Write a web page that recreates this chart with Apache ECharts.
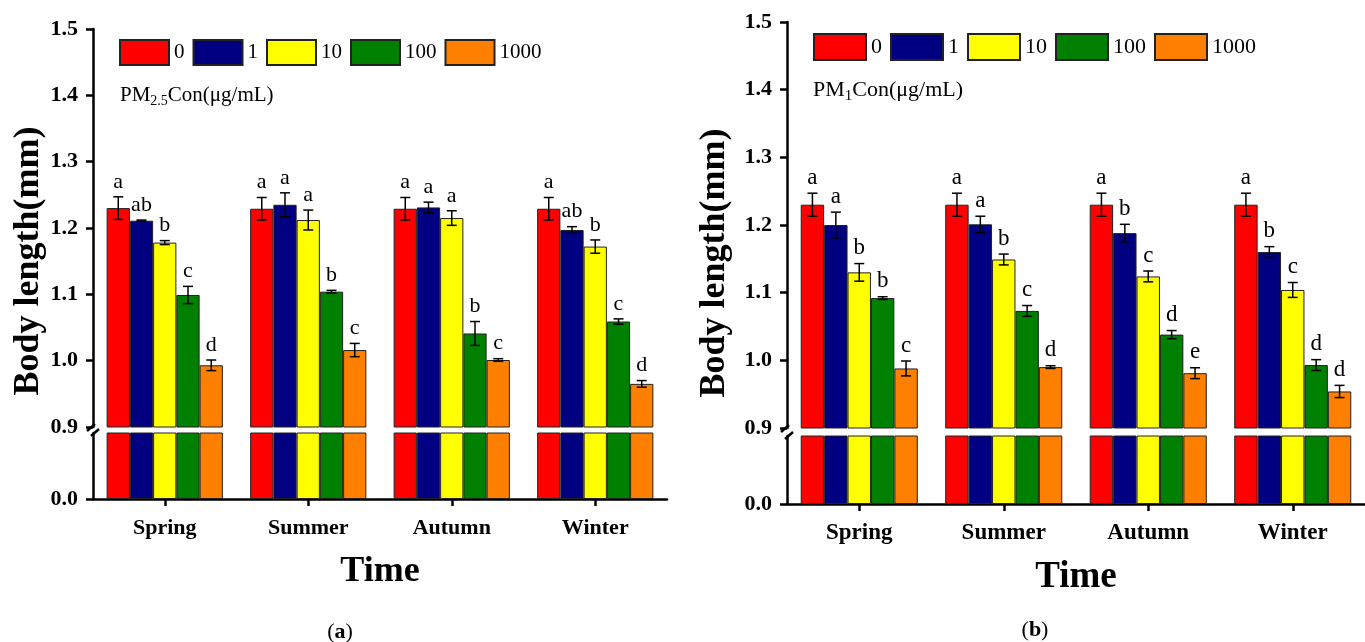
<!DOCTYPE html>
<html lang="en">
<head>
<meta charset="UTF-8">
<title>Body length</title>
<style type="text/css">
    html, body { margin: 0; padding: 0; background: #fff; }
    #chart { width: 1365px; height: 642px; }
</style>
</head>
<body>
<div id="chart"></div>
<script src="https://cdn.jsdelivr.net/npm/echarts@6/dist/echarts.min.js"></script>
<script type="text/javascript">
    var seasons = ['Spring', 'Summer', 'Autumn', 'Winter'];
    var doses = ['0', '1', '10', '100', '1000'];
    var colors = ['#ff0000', '#000080', '#ffff00', '#008000', '#ff8000'];
    var yTicks = [0.9, 1.0, 1.1, 1.2, 1.3, 1.4, 1.5];

    // panel (a) PM2.5 : one array per dose, values by season
    var a0 = [1.230, 1.229, 1.229, 1.229];
    var a1 = [1.211, 1.235, 1.231, 1.197];
    var a10 = [1.178, 1.212, 1.215, 1.172];
    var a100 = [1.099, 1.104, 1.041, 1.059];
    var a1000 = [0.993, 1.016, 1.001, 0.965];
    var aErr0 = [0.017, 0.017, 0.017, 0.017];
    var aErr1 = [0.001, 0.018, 0.008, 0.005];
    var aErr10 = [0.003, 0.015, 0.011, 0.010];
    var aErr100 = [0.013, 0.002, 0.018, 0.004];
    var aErr1000 = [0.008, 0.010, 0.002, 0.005];
    var aLet0 = ['a', 'a', 'a', 'a'];
    var aLet1 = ['ab', 'a', 'a', 'ab'];
    var aLet10 = ['b', 'a', 'a', 'b'];
    var aLet100 = ['c', 'b', 'b', 'c'];
    var aLet1000 = ['d', 'c', 'c', 'd'];

    // panel (b) PM1
    var b0 = [1.230, 1.230, 1.230, 1.230];
    var b1 = [1.200, 1.201, 1.188, 1.160];
    var b10 = [1.130, 1.149, 1.124, 1.104];
    var b100 = [1.092, 1.073, 1.038, 0.993];
    var b1000 = [0.988, 0.990, 0.981, 0.954];
    var bErr0 = [0.017, 0.017, 0.017, 0.017];
    var bErr1 = [0.019, 0.012, 0.013, 0.008];
    var bErr10 = [0.013, 0.008, 0.008, 0.011];
    var bErr100 = [0.002, 0.008, 0.006, 0.008];
    var bErr1000 = [0.011, 0.002, 0.008, 0.009];
    var bLet0 = ['a', 'a', 'a', 'a'];
    var bLet1 = ['a', 'a', 'b', 'b'];
    var bLet10 = ['b', 'b', 'c', 'c'];
    var bLet100 = ['b', 'c', 'd', 'd'];
    var bLet1000 = ['c', 'd', 'e', 'd'];

    var aVals = [a0, a1, a10, a100, a1000];
    var aErrs = [aErr0, aErr1, aErr10, aErr100, aErr1000];
    var aLets = [aLet0, aLet1, aLet10, aLet100, aLet1000];
    var bVals = [b0, b1, b10, b100, b1000];
    var bErrs = [bErr0, bErr1, bErr10, bErr100, bErr1000];
    var bLets = [bLet0, bLet1, bLet10, bLet100, bLet1000];

    var FONT = '"Liberation Serif", "Times New Roman", serif';
    var BAR_FRAC = 0.162;

    var chart = echarts.init(document.getElementById('chart'));

    function fmt(v) { return v.toFixed(1); }

    // upper grid (0.9-1.5) + lower grid (0-0.9) for each panel
    var grids = [
        { left: 93, top: 29, width: 574, height: 398 },
        { left: 93, top: 433, width: 574, height: 66 },
        { left: 787, top: 22, width: 586, height: 406 },
        { left: 787, top: 436, width: 586, height: 68 }
    ];

    function xAxisFor(gi, shown, fs, titleFs) {
        return {
            type: 'category', gridIndex: gi, data: seasons,
            show: shown,
            name: shown ? 'Time' : '',
            nameLocation: 'middle', nameGap: 55,
            nameTextStyle: { fontFamily: FONT, fontWeight: 'bold', fontSize: titleFs, color: '#000' },
            axisLine: { show: shown, lineStyle: { color: '#000', width: 2.5 } },
            axisTick: { show: shown, alignWithLabel: true, length: 7, lineStyle: { color: '#000', width: 2.5 } },
            axisLabel: { show: shown, margin: 18, fontFamily: FONT, fontWeight: 'bold', fontSize: fs, color: '#000' }
        };
    }

    function yUpper(gi, fs) {
        return {
            type: 'value', gridIndex: gi, min: yTicks[0], max: yTicks[yTicks.length - 1], interval: 0.1,
            splitLine: { show: false },
            axisLine: { show: true, lineStyle: { color: '#000', width: 2.5 } },
            axisTick: { show: true, length: 7, lineStyle: { color: '#000', width: 2.5 } },
            axisLabel: { formatter: fmt, margin: 15, fontFamily: FONT, fontWeight: 'bold', fontSize: fs, color: '#000' }
        };
    }

    function yLower(gi, fs) {
        return {
            type: 'value', gridIndex: gi, min: 0, max: 0.9, interval: 0.9,
            splitLine: { show: false },
            axisLine: { show: true, lineStyle: { color: '#000', width: 2.5 } },
            axisTick: { show: true, customValues: [0], length: 7, lineStyle: { color: '#000', width: 2.5 } },
            axisLabel: { customValues: [0], formatter: fmt, margin: 15, fontFamily: FONT, fontWeight: 'bold', fontSize: fs, color: '#000' }
        };
    }

    function barSeries(vals, axisIdx) {
        return vals.map(function (v, i) {
            return {
                name: doses[i], type: 'bar', xAxisIndex: axisIdx, yAxisIndex: axisIdx,
                data: v, barWidth: (BAR_FRAC * 100) + '%', barGap: '0%', clip: true,
                itemStyle: { color: colors[i], borderColor: '#222', borderWidth: 1 },
                silent: true
            };
        });
    }

    function errSeries(vals, errs, lets, axisIdx, fs) {
        return vals.map(function (v, s) {
            return {
                type: 'custom', xAxisIndex: axisIdx, yAxisIndex: axisIdx, silent: true, z: 5,
                data: v.map(function (d, c) { return [c, d, errs[s][c]]; }),
                renderItem: function (params, api) {
                    var c = api.value(0), m = api.value(1), e = api.value(2);
                    var band = api.size([1, 0])[0];
                    var x = api.coord([c, m])[0] + (s - 2) * band * BAR_FRAC;
                    var yt = api.coord([c, m + e])[1];
                    var yb = api.coord([c, m - e])[1];
                    var st = { stroke: '#000', lineWidth: 1.5 };
                    return {
                        type: 'group',
                        children: [
                            { type: 'line', shape: { x1: x, y1: yt, x2: x, y2: yb }, style: st },
                            { type: 'line', shape: { x1: x - 5, y1: yt, x2: x + 5, y2: yt }, style: st },
                            { type: 'line', shape: { x1: x - 5, y1: yb, x2: x + 5, y2: yb }, style: st },
                            { type: 'text', x: x, y: yt - 4, style: {
                                text: lets[s][params.dataIndex], fill: '#000',
                                font: fs + 'px ' + FONT, textAlign: 'center', textVerticalAlign: 'bottom' } }
                        ]
                    };
                }
            };
        });
    }

    function legendFor(left, top, w, h, fs) {
        return {
            left: left, top: top, padding: 0, itemWidth: w, itemHeight: h, itemGap: 8, icon: 'rect',
            selectedMode: false, data: doses,
            textStyle: { fontFamily: FONT, fontSize: fs, color: '#000' }
        };
    }

    var series = [].concat(
        barSeries(aVals, 0), barSeries(aVals, 1), errSeries(aVals, aErrs, aLets, 0, 22),
        barSeries(bVals, 2), barSeries(bVals, 3), errSeries(bVals, bErrs, bLets, 2, 23)
    );

    var option = {
        animation: false,
        grid: grids,
        legend: [legendFor(119, 39, 49, 25, 21), legendFor(813, 33, 52, 26, 22)],
        xAxis: [xAxisFor(0, false, 22, 36), xAxisFor(1, true, 22, 36), xAxisFor(2, false, 23, 37), xAxisFor(3, true, 23, 37)],
        yAxis: [yUpper(0, 22), yLower(1, 22), yUpper(2, 22), yLower(3, 22)],
        series: series,
        graphic: [
            { type: 'text', x: 29, y: 261, rotation: Math.PI / 2,
              style: { text: 'Body length(mm)', font: 'bold 36px ' + FONT, fill: '#000', textAlign: 'center', textVerticalAlign: 'middle' } },
            { type: 'text', x: 715, y: 263, rotation: Math.PI / 2,
              style: { text: 'Body length(mm)', font: 'bold 36px ' + FONT, fill: '#000', textAlign: 'center', textVerticalAlign: 'middle' } },
            { type: 'text', x: 120, y: 95,
              style: { text: 'PM{s|2.5}Con(μg/mL)', fill: '#000', fontFamily: FONT, fontSize: 21, textVerticalAlign: 'middle',
                       rich: { s: { fontFamily: FONT, fontSize: 14, padding: [12, 0, 0, 0] } } } },
            { type: 'text', x: 813, y: 90,
              style: { text: 'PM{s|1}Con(μg/mL)', fill: '#000', fontFamily: FONT, fontSize: 22, textVerticalAlign: 'middle',
                       rich: { s: { fontFamily: FONT, fontSize: 15, padding: [12, 0, 0, 0] } } } },
            { type: 'text', x: 340, y: 632,
              style: { text: '({b|a})', fill: '#000', fontFamily: FONT, fontSize: 22, textAlign: 'center', textVerticalAlign: 'middle',
                       rich: { b: { fontFamily: FONT, fontSize: 22, fontWeight: 'bold' } } } },
            { type: 'text', x: 1035, y: 630,
              style: { text: '({b|b})', fill: '#000', fontFamily: FONT, fontSize: 22, textAlign: 'center', textVerticalAlign: 'middle',
                       rich: { b: { fontFamily: FONT, fontSize: 22, fontWeight: 'bold' } } } }
        ]
    };
    chart.setOption(option);

    // axis break marks, placed from the axes themselves
    function breakMarks(upIdx, lowIdx) {
        var top = chart.convertToPixel({ xAxisIndex: upIdx, yAxisIndex: upIdx }, [0, yTicks[0]]);
        var bot = chart.convertToPixel({ xAxisIndex: lowIdx, yAxisIndex: lowIdx }, [0, 0.9]);
        var ax = grids[upIdx].left;
        var st = { stroke: '#000', lineWidth: 2.5 };
        return [
            { type: 'line', shape: { x1: ax - 6, y1: top[1] + 4, x2: ax + 2, y2: top[1] - 3 }, style: st },
            { type: 'line', shape: { x1: ax - 2, y1: bot[1] + 3, x2: ax + 6, y2: bot[1] - 4 }, style: st }
        ];
    }
    var marks = breakMarks(0, 1).concat(breakMarks(2, 3));
    chart.setOption({ graphic: option.graphic.concat(marks) });
</script>
</body>
</html>
